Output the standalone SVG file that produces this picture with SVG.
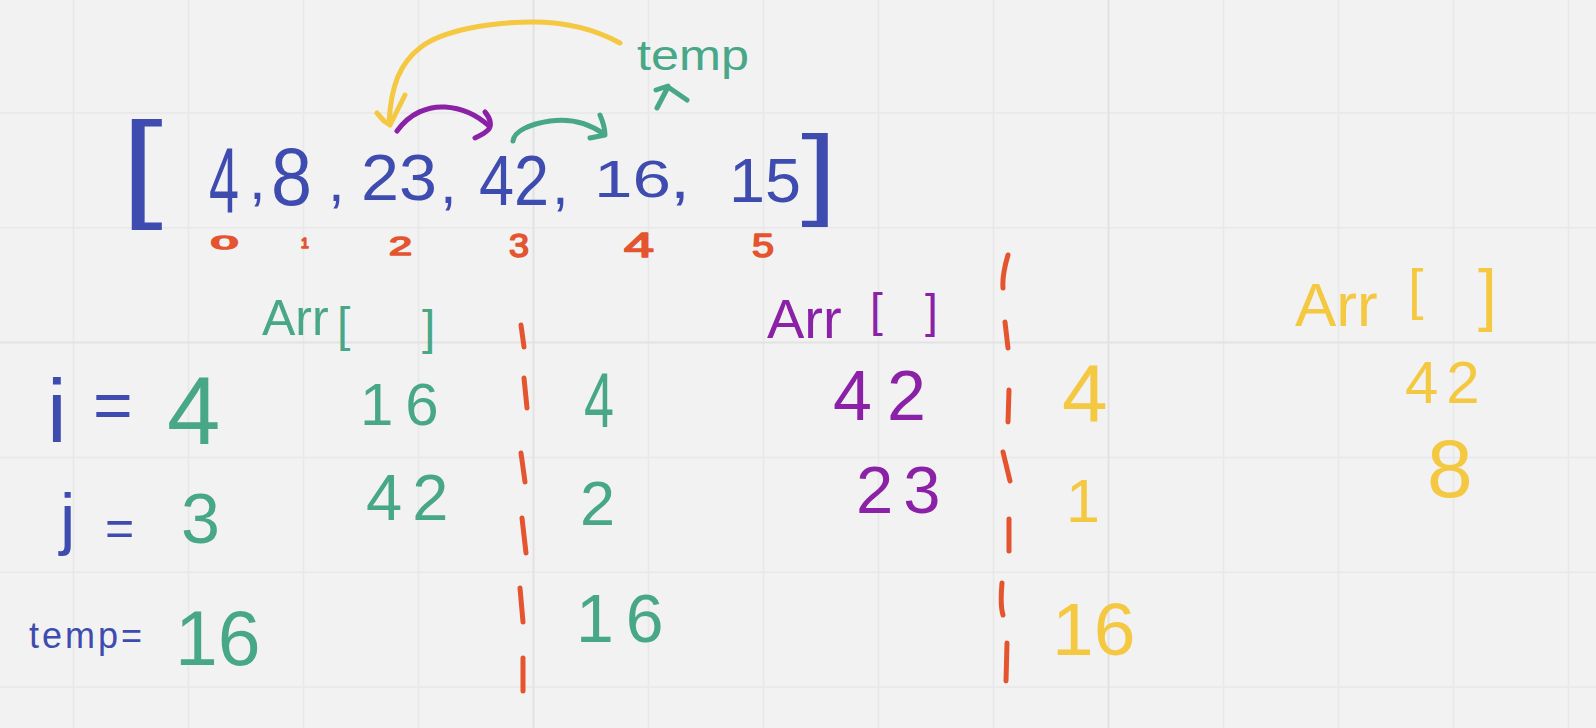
<svg xmlns="http://www.w3.org/2000/svg" width="1596" height="728" viewBox="0 0 1596 728">
  <style>
    .grid{stroke:#e8e8e8;stroke-width:1.5}
    .major{stroke:#e2e2e2;stroke-width:2}
    text{font-family:"Liberation Sans",Arial,sans-serif}
    .blue{fill:#3e4cb0}
    .green{fill:#47a787}
    .purple{fill:#8a21a6}
    .yellow{fill:#f4c841}
    .orange{fill:#e4552f;stroke:#e4552f;stroke-width:1.6;stroke-linejoin:round}
    .pen{fill:none;stroke-width:5;stroke-linecap:round;stroke-linejoin:round}
    .dash{stroke:#e4552f;stroke-width:5;stroke-linecap:round;fill:none}
  </style>
  <rect width="1596" height="728" fill="#f2f2f2"/>
  <g id="grid">
    <path class="grid" d="M73.5,0V728M188.5,0V728M303.5,0V728M418.5,0V728M648.5,0V728M763.5,0V728M878.5,0V728M993.5,0V728M1223.5,0V728M1338.5,0V728M1453.5,0V728M1568.5,0V728M0,113H1596M0,227.8H1596M0,457.4H1596M0,572.2H1596M0,687H1596"/>
    <path class="major" d="M533.5,0V728M1108.5,0V728M0,342.6H1596"/>
  </g>

  <g id="array" class="blue">
    <text x="121" y="205" font-size="119" textLength="42" lengthAdjust="spacingAndGlyphs">[</text>
    <text transform="translate(209,212) scale(0.586,1)" font-size="92">4</text>
    <text x="249" y="199" font-size="60">,</text>
    <text x="271" y="205" font-size="81" textLength="41" lengthAdjust="spacingAndGlyphs">8</text>
    <text x="328" y="201" font-size="60">,</text>
    <text x="361" y="200" font-size="64" textLength="76" lengthAdjust="spacingAndGlyphs">23</text>
    <text x="440" y="203" font-size="60">,</text>
    <text transform="translate(479,205) scale(0.9,1)" font-size="70">42</text>
    <text x="552" y="204" font-size="60">,</text>
    <text x="594" y="197" font-size="52" textLength="77" lengthAdjust="spacingAndGlyphs">16</text>
    <text x="670" y="198" font-size="60" textLength="20" lengthAdjust="spacingAndGlyphs">,</text>
    <text x="729" y="202" font-size="63" textLength="72" lengthAdjust="spacingAndGlyphs">15</text>
    <text x="801" y="206" font-size="100" textLength="36" lengthAdjust="spacingAndGlyphs">]</text>
  </g>

  <g id="indices" class="orange">
    <text x="211" y="249" font-size="19" textLength="27" lengthAdjust="spacingAndGlyphs">0</text>
    <text x="301" y="248" font-size="14">1</text>
    <text x="389" y="255" font-size="25" textLength="23" lengthAdjust="spacingAndGlyphs">2</text>
    <text x="509" y="257" font-size="33" textLength="20" lengthAdjust="spacingAndGlyphs">3</text>
    <text x="624" y="257" font-size="35" textLength="30" lengthAdjust="spacingAndGlyphs">4</text>
    <text x="752" y="257" font-size="33" textLength="22" lengthAdjust="spacingAndGlyphs">5</text>
  </g>

  <g id="temp-label" class="green">
    <text x="637" y="70" font-size="42" textLength="112" lengthAdjust="spacingAndGlyphs">temp</text>
  </g>

  <g id="connectors" class="pen">
    <path stroke="#f4c841" d="M620,43 C598,31 570,22 533,22 C488,22 442,31 421,47 C400,63 391,85 389,123"/>
    <path stroke="#f4c841" d="M405,95 L390,125 M377,113 L384,121 L390,125"/>
    <path stroke="#8a21a6" d="M397,131 C410,113 428,106 445,107 C462,108 478,116 489,126"/>
    <path stroke="#8a21a6" d="M485,112 C491,119 492,126 488,130 C484,134 479,136 475,138"/>
    <path stroke="#47a787" d="M513,141 C514,131 530,124 550,121 C571,118 590,124 604,134"/>
    <path stroke="#47a787" d="M600,115 C603,122 605,128 605,135 L590,138"/>
    <path stroke="#47a787" d="M657,108 L668,87 L687,100 M656,90 L668,86"/>
  </g>

  <g id="dividers">
    <path class="dash" d="M521,325L524,347M524,378L527,408M521,453L525,482M522,518L526,553M520,588L523,622M523,658L523,691"/>
    <path class="dash" d="M1008,255Q1002,275 1003,288M1005,322L1008,348M1009,390L1008,422M1003,452L1010,481M1009,519L1009,551M1002,583Q1000,605 1003,615M1007,643L1006,681"/>
  </g>

  <g id="vars" class="blue">
    <text><tspan x="47" y="442" font-size="89">i </tspan><tspan x="93" y="429" font-size="68">= </tspan><tspan class="green" x="167" y="444" font-size="96">4</tspan></text>
    <text><tspan x="60" y="542" font-size="69">j </tspan><tspan x="105" y="545" font-size="50">= </tspan><tspan class="green" x="181" y="543" font-size="70">3</tspan></text>
    <text><tspan x="29" y="648" font-size="36" letter-spacing="3">temp= </tspan><tspan class="green" x="175" y="665" font-size="77">16</tspan></text>
  </g>

  <g id="col-green" class="green">
    <text><tspan x="262" y="335" font-size="50">Arr</tspan><tspan x="337" y="341" font-size="48">[ </tspan><tspan x="422" y="344" font-size="48">]</tspan></text>
    <text x="360" y="425" font-size="60" letter-spacing="12">16</text>
    <text x="366" y="520" font-size="65" letter-spacing="10">42</text>
  </g>

  <g id="col-green-2" class="green">
    <text x="584" y="427" font-size="77" textLength="30" lengthAdjust="spacingAndGlyphs">4</text>
    <text x="580" y="525" font-size="63">2</text>
    <text x="576" y="642" font-size="68" letter-spacing="12">16</text>
  </g>

  <g id="col-purple" class="purple">
    <text><tspan x="767" y="338" font-size="56">Arr</tspan><tspan x="870" y="326" font-size="46">[ </tspan><tspan x="925" y="327" font-size="46">]</tspan></text>
    <text x="833" y="420" font-size="70" letter-spacing="15">42</text>
    <text x="856" y="513" font-size="67" letter-spacing="10">23</text>
  </g>

  <g id="col-yellow" class="yellow">
    <text x="1062" y="422" font-size="82">4</text>
    <text x="1066" y="522" font-size="61">1</text>
    <text x="1052" y="655" font-size="75">16</text>
  </g>

  <g id="col-yellow-2" class="yellow">
    <text><tspan x="1295" y="326" font-size="62">Arr</tspan><tspan x="1408" y="308" font-size="56">[ </tspan><tspan x="1478" y="318" font-size="68">]</tspan></text>
    <text x="1405" y="403" font-size="60" letter-spacing="8">42</text>
    <text x="1427" y="497" font-size="82">8</text>
  </g>
</svg>
